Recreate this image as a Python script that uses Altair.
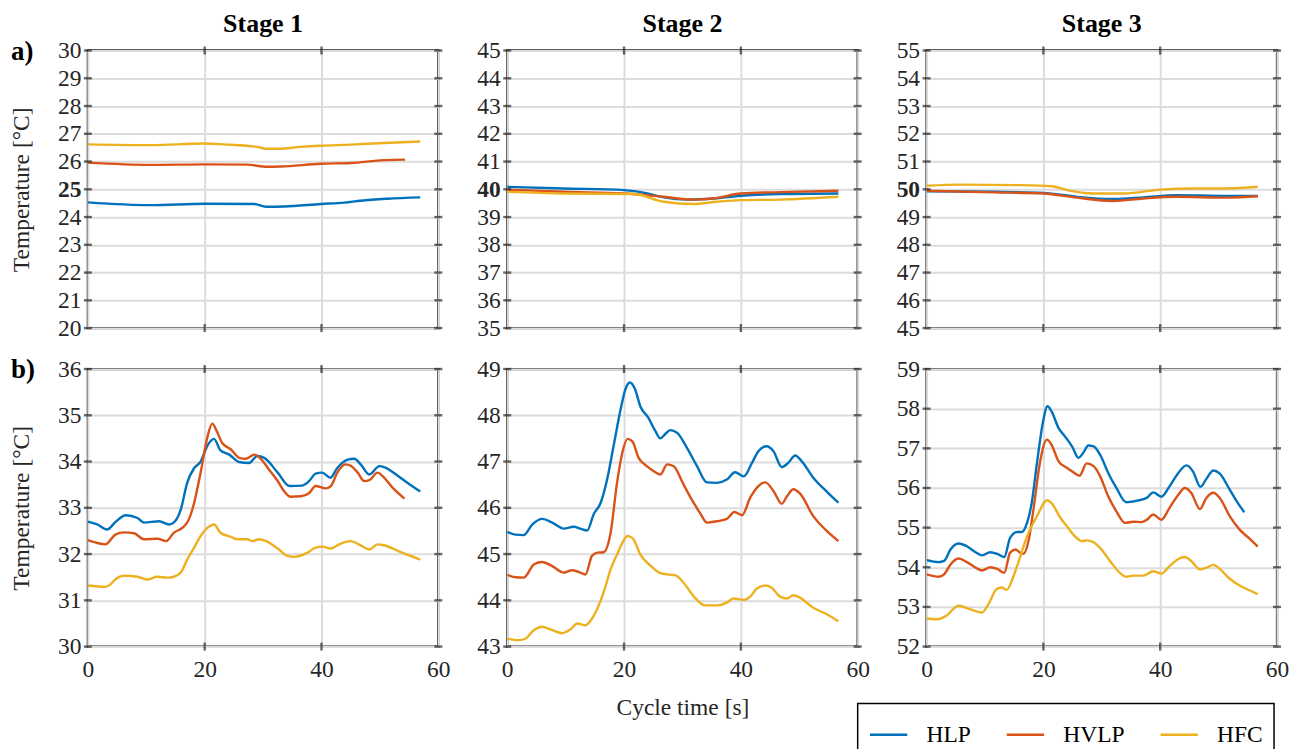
import altair as alt
import pandas as pd

FONT = "Liberation Serif"
SERIES = ["HLP", "HVLP", "HFC"]
COLORS = ["#0072BD", "#D95319", "#EDB120"]
STAGES = ["Stage 1", "Stage 2", "Stage 3"]
ROW_LABELS = ["a)", "b)"]

# ---------------- Row a) (near-constant) ----------------
s1a_hlp_t = [0, 10.7, 20, 28.5, 30.5, 33.6, 39.9, 43.9, 46.7, 51.3, 56.9]
s1a_hlp_v = [24.53, 24.43, 24.48, 24.47, 24.37, 24.38, 24.47, 24.52, 24.59, 24.66, 24.71]
s1a_hvlp_t = [0, 10.7, 20, 27.3, 30.7, 33, 39.9, 45, 50.7, 54.3]
s1a_hvlp_v = [25.96, 25.88, 25.90, 25.89, 25.81, 25.82, 25.92, 25.95, 26.05, 26.07]
s1a_hfc_t = [0, 10.7, 20, 23.3, 29, 30.5, 32.5, 36.5, 39.9, 45, 50.7, 56.9]
s1a_hfc_v = [26.62, 26.59, 26.65, 26.62, 26.53, 26.46, 26.46, 26.53, 26.57, 26.61, 26.67, 26.72]

s2a_hlp_t = [0, 9.7, 20, 24, 26.8, 30.8, 35.3, 40, 46.7, 56.7]
s2a_hlp_v = [40.09, 40.03, 39.97, 39.85, 39.71, 39.63, 39.67, 39.77, 39.83, 39.85]
s2a_hvlp_t = [0, 9.7, 20, 26.8, 31.9, 35.3, 40, 46.7, 56.7]
s2a_hvlp_v = [39.99, 39.91, 39.85, 39.73, 39.63, 39.67, 39.85, 39.90, 39.95]
s2a_hfc_t = [0, 9.7, 21.7, 26.8, 31.9, 35.9, 40, 46.7, 56.7]
s2a_hfc_v = [39.91, 39.85, 39.83, 39.55, 39.47, 39.55, 39.61, 39.63, 39.73]

s3a_hlp_t = [0, 11.5, 20, 25.7, 32, 37.1, 42.7, 51.3, 56.7]
s3a_hlp_v = [49.93, 49.91, 49.87, 49.73, 49.65, 49.71, 49.79, 49.76, 49.76]
s3a_hvlp_t = [0, 11.5, 20, 25.7, 32, 37.1, 42.7, 51.3, 56.7]
s3a_hvlp_v = [49.95, 49.89, 49.85, 49.70, 49.58, 49.67, 49.73, 49.70, 49.75]
s3a_hfc_t = [0, 5.8, 16.1, 21.5, 24.1, 28.6, 33.8, 40, 45.6, 51.3, 56.7]
s3a_hfc_v = [50.13, 50.17, 50.15, 50.11, 49.97, 49.85, 49.85, 49.99, 50.03, 50.03, 50.09]

# ---------------- Row b) ----------------
s1b_hlp_t = [0, 1.6, 3.3, 4.7, 6.5, 8.5, 9.6, 12.2, 13.9, 14.7, 15.9, 17, 18.2, 19.3, 20.5,
             21.6, 22.7, 24.2, 25.9, 27.6, 29, 30.2, 32.5, 34.5, 36.7, 37.9, 39, 40.1, 41.5,
             42.7, 44.5, 45.6, 46.7, 48.2, 49.9, 50.7, 53, 54.7, 56.9]
s1b_hlp_v = [32.70, 32.64, 32.53, 32.69, 32.84, 32.78, 32.68, 32.71, 32.64, 32.68, 32.96, 33.54,
             33.86, 34.00, 34.35, 34.49, 34.24, 34.15, 33.99, 33.97, 34.12, 34.08, 33.76, 33.47,
             33.48, 33.58, 33.74, 33.76, 33.65, 33.86, 34.04, 34.06, 33.94, 33.72, 33.90, 33.88,
             33.70, 33.54, 33.35]
s1b_hvlp_t = [0, 1.6, 3.0, 4.7, 6.2, 7.9, 9.6, 11.9, 13.4, 14.7, 16.2, 17.3, 18.2, 19.3, 20.5,
              21.3, 22.1, 23, 24.5, 25.9, 27, 28.5, 29.6, 31, 32.5, 33.6, 34.7, 36.5, 37.9, 39,
              40.7, 41.6, 42.7, 44.1, 45, 46.2, 47.3, 48.2, 49.6, 50.5, 52.2, 54.2]
s1b_hvlp_v = [32.30, 32.24, 32.21, 32.42, 32.47, 32.45, 32.32, 32.33, 32.28, 32.46, 32.57, 32.75,
              33.11, 33.76, 34.55, 34.82, 34.65, 34.40, 34.26, 34.08, 34.06, 34.15, 34.06, 33.83,
              33.58, 33.36, 33.24, 33.25, 33.32, 33.47, 33.42, 33.47, 33.76, 33.94, 33.91, 33.76,
              33.58, 33.60, 33.76, 33.68, 33.43, 33.20]
s1b_hfc_t = [0, 3, 3.9, 4.7, 6.2, 8.5, 10.2, 11.9, 13.6, 14.7, 15.9, 17, 18.2, 19.3, 20.5, 21.6,
             22.7, 24.5, 25.6, 27.3, 28.2, 29.3, 30.5, 32.5, 34.2, 35.3, 37.6, 39, 40.1, 41.6, 43,
             45, 46.7, 48.2, 49.6, 50.7, 53.6, 56.9]
s1b_hfc_v = [31.32, 31.29, 31.35, 31.45, 31.53, 31.51, 31.45, 31.51, 31.49, 31.51, 31.60, 31.88,
             32.14, 32.39, 32.57, 32.64, 32.46, 32.37, 32.32, 32.32, 32.28, 32.32, 32.28, 32.12,
             31.96, 31.94, 32.03, 32.14, 32.16, 32.12, 32.21, 32.28, 32.19, 32.10, 32.21, 32.19,
             32.04, 31.88]

s2b_hlp_t = [0, 1.4, 2.8, 4.3, 6, 7.7, 9.7, 11.4, 12.5, 13.7, 14.8, 16, 17.1, 18.2, 19.4, 20.2,
             21, 21.8, 22.8, 24.2, 25.4, 26.2, 27.1, 27.9, 29.1, 30.8, 32.5, 34.2, 35.9, 37.6, 39,
             40.5, 41.9, 43, 44.4, 45.6, 47, 48.1, 49.3, 50.4, 52.4, 54.7, 56.7]
s2b_hlp_v = [45.48, 45.42, 45.41, 45.64, 45.76, 45.68, 45.55, 45.59, 45.55, 45.51, 45.86, 46.11,
             46.61, 47.33, 48.12, 48.55, 48.71, 48.59, 48.19, 47.94, 47.65, 47.50, 47.60, 47.68,
             47.62, 47.29, 46.90, 46.55, 46.54, 46.61, 46.77, 46.68, 46.97, 47.22, 47.33, 47.22,
             46.88, 46.97, 47.13, 47.01, 46.65, 46.35, 46.11]
s2b_hvlp_t = [0, 1.4, 2.8, 4.6, 6, 7.7, 9.7, 11.1, 12.3, 13.4, 14.5, 15.4, 16.5, 17.7, 18.8, 19.7,
              20.6, 21.4, 22.5, 23.9, 25.1, 26.2, 27.4, 28.5, 30.2, 31.9, 33, 34.2, 35.9, 37.6,
              38.9, 40.2, 41.6, 43, 44.2, 45.6, 47, 47.9, 49, 50.1, 52.4, 54.7, 56.7]
s2b_hvlp_v = [44.55, 44.50, 44.49, 44.78, 44.83, 44.74, 44.60, 44.65, 44.61, 44.56, 44.96, 45.03,
              45.04, 45.46, 46.54, 47.19, 47.49, 47.44, 47.08, 46.90, 46.79, 46.72, 46.94, 46.90,
              46.50, 46.11, 45.89, 45.68, 45.71, 45.76, 45.91, 45.84, 46.22, 46.47, 46.55, 46.36,
              46.09, 46.25, 46.40, 46.31, 45.82, 45.50, 45.28]
s2b_hfc_t = [0, 2, 3.1, 4.6, 6, 7.4, 9.4, 10.8, 12, 13.4, 14.2, 15.4, 16.5, 17.7, 18.8, 19.7, 20.6,
             21.5, 22.8, 24.6, 26, 27.4, 28.8, 30.2, 31.9, 33.9, 35.9, 37.6, 38.7, 40.5, 41.6,
             42.7, 44.2, 45.3, 46.7, 47.9, 49, 50.1, 52.4, 54.7, 56.7]
s2b_hfc_v = [43.17, 43.14, 43.17, 43.36, 43.43, 43.37, 43.29, 43.37, 43.50, 43.46, 43.55, 43.81,
             44.17, 44.67, 44.99, 45.24, 45.39, 45.34, 44.99, 44.74, 44.60, 44.56, 44.54, 44.38,
             44.09, 43.89, 43.89, 43.95, 44.04, 44.01, 44.08, 44.25, 44.32, 44.27, 44.08, 44.04,
             44.11, 44.06, 43.84, 43.70, 43.55]

s3b_hlp_t = [0, 2.1, 3, 4.1, 5.5, 6.9, 8.4, 9.5, 10.9, 12.1, 13.3, 14.3, 15.5, 16.3, 17.2, 18,
             18.9, 19.9, 20.7, 21.4, 22.6, 23.7, 24.9, 26, 26.8, 27.7, 28.6, 29.7, 31.1, 32.5,
             34.2, 36, 37.7, 38.8, 40.2, 41.6, 43.1, 44.5, 45.6, 46.9, 47.9, 49.1, 50.2, 51.9,
             53.3, 54.4]
s3b_hlp_v = [54.18, 54.13, 54.16, 54.45, 54.60, 54.53, 54.38, 54.30, 54.38, 54.34, 54.26, 54.74,
             54.89, 54.89, 55.12, 55.62, 56.63, 57.64, 58.06, 57.93, 57.51, 57.30, 57.05, 56.76,
             56.88, 57.07, 57.05, 56.84, 56.38, 56.00, 55.64, 55.68, 55.75, 55.89, 55.78, 56.04,
             56.38, 56.57, 56.42, 56.03, 56.23, 56.44, 56.36, 55.96, 55.62, 55.39]
s3b_hvlp_t = [0, 2.1, 3, 4.1, 5.5, 6.9, 8.4, 9.5, 10.9, 12.1, 13.3, 14.3, 15.2, 16, 16.6, 17.5,
              18.3, 19.4, 20.6, 21.4, 22.6, 24, 25.1, 26.2, 27.4, 28.6, 29.7, 31.1, 32.5, 34,
              35.4, 36.8, 37.7, 38.8, 40.2, 41.6, 43.1, 44.2, 45.3, 46.8, 47.9, 49.1, 50.2, 51.9,
              53.6, 55.3, 56.7]
s3b_hvlp_v = [53.82, 53.76, 53.82, 54.07, 54.22, 54.13, 53.99, 53.92, 54.00, 53.96, 53.86, 54.37,
              54.45, 54.37, 54.34, 54.70, 55.46, 56.63, 57.22, 57.09, 56.67, 56.51, 56.40, 56.31,
              56.62, 56.55, 56.30, 55.79, 55.41, 55.12, 55.15, 55.14, 55.20, 55.33, 55.20, 55.50,
              55.83, 56.00, 55.88, 55.47, 55.75, 55.88, 55.75, 55.29, 54.95, 54.72, 54.52]
s3b_hfc_t = [0, 1.8, 3.3, 5.5, 7.5, 9.5, 10.6, 12, 12.9, 13.7, 14.9, 15.7, 17.2, 18.9, 20.6,
             21.4, 22.9, 24, 25.4, 26.6, 27.4, 28.6, 29.7, 31.4, 33.1, 34.2, 35.4, 37.1, 38.8,
             40.2, 41.6, 43.1, 44.2, 45.3, 46.8, 47.9, 49.1, 50.2, 51.9, 53.6, 55.3, 56.7]
s3b_hfc_v = [52.71, 52.69, 52.77, 53.03, 52.94, 52.86, 53.07, 53.45, 53.49, 53.43, 53.78, 54.12,
             54.78, 55.29, 55.69, 55.62, 55.25, 55.04, 54.78, 54.66, 54.68, 54.63, 54.49, 54.16,
             53.86, 53.76, 53.79, 53.79, 53.90, 53.84, 54.03, 54.21, 54.26, 54.16, 53.95, 53.99,
             54.06, 53.96, 53.71, 53.54, 53.42, 53.32]

Y_DOMAINS = {
    ("a", 0): [20, 30], ("a", 1): [35, 45], ("a", 2): [45, 55],
    ("b", 0): [30, 36], ("b", 1): [43, 49], ("b", 2): [52, 59],
}
BOLD_TICK = {0: 25, 1: 40, 2: 50}
X_TICKS = [0, 20, 40, 60]

PANELS = {
    ("a", 0): [(s1a_hlp_t, s1a_hlp_v), (s1a_hvlp_t, s1a_hvlp_v), (s1a_hfc_t, s1a_hfc_v)],
    ("a", 1): [(s2a_hlp_t, s2a_hlp_v), (s2a_hvlp_t, s2a_hvlp_v), (s2a_hfc_t, s2a_hfc_v)],
    ("a", 2): [(s3a_hlp_t, s3a_hlp_v), (s3a_hvlp_t, s3a_hvlp_v), (s3a_hfc_t, s3a_hfc_v)],
    ("b", 0): [(s1b_hlp_t, s1b_hlp_v), (s1b_hvlp_t, s1b_hvlp_v), (s1b_hfc_t, s1b_hfc_v)],
    ("b", 1): [(s2b_hlp_t, s2b_hlp_v), (s2b_hvlp_t, s2b_hvlp_v), (s2b_hfc_t, s2b_hfc_v)],
    ("b", 2): [(s3b_hlp_t, s3b_hlp_v), (s3b_hvlp_t, s3b_hvlp_v), (s3b_hfc_t, s3b_hfc_v)],
}

W, H = 351, 278
TXT = "#262626"
GRID = "#dcdcdc"
FS = 23.5

legend = alt.Legend(
    title=None, orient="none", direction="horizontal", legendX=771, legendY=654,
    symbolType="stroke", symbolSize=1400, symbolStrokeWidth=2.4,
    labelFont=FONT, labelFontSize=FS, labelColor="black", labelOffset=18,
    columnPadding=30, padding=11, strokeColor="black",
)


def panel(row, col):
    recs = []
    for name, (ts, vs) in zip(SERIES, PANELS[(row, col)]):
        for t, v in zip(ts, vs):
            recs.append({"t": t, "v": v, "s": name})
    df = pd.DataFrame(recs)
    lo, hi = Y_DOMAINS[(row, col)]
    yvals = list(range(lo, hi + 1))
    bottom = row == "b"

    xaxis = alt.Axis(
        values=X_TICKS, grid=True, gridColor=GRID, gridWidth=2, domain=False, ticks=False,
        labels=bottom, labelFont=FONT, labelFontSize=FS, labelColor=TXT, labelPadding=11,
        labelFlush=False, labelOverlap=False,
        title="Cycle time [s]" if (bottom and col == 1) else None,
        titleFont=FONT, titleFontSize=FS, titleFontWeight="normal", titleColor=TXT, titlePadding=15,
    )
    if row == "a":
        wt = {"condition": {"test": f"datum.value == {BOLD_TICK[col]}", "value": "bold"},
              "value": "normal"}
    else:
        wt = "normal"
    yaxis = alt.Axis(
        values=yvals, grid=True, gridColor=GRID, gridWidth=2, domain=False, ticks=False,
        labelFont=FONT, labelFontSize=FS, labelColor=TXT, labelPadding=7, labelFontWeight=wt,
        labelFlush=False, labelOverlap=False, labelBound=False, format="d",
        title="Temperature [°C]" if col == 0 else None,
        titleFont=FONT, titleFontSize=FS, titleFontWeight="normal", titleColor=TXT, titlePadding=24,
    )
    xs = alt.Scale(domain=[0, 60], nice=False)
    ys = alt.Scale(domain=[lo, hi], nice=False, zero=False)

    lines = alt.Chart(df).mark_line(strokeWidth=2.4, interpolate="monotone", clip=True).encode(
        x=alt.X("t:Q", scale=xs, axis=xaxis),
        y=alt.Y("v:Q", scale=ys, axis=yaxis),
        color=alt.Color("s:N", scale=alt.Scale(domain=SERIES, range=COLORS), legend=legend, sort=SERIES),
    )

    ydf = pd.DataFrame({"v": yvals})
    xdf = pd.DataFrame({"t": [20, 40]})
    tk = dict(color="#262626", thickness=2.4, size=8)
    tick_l = alt.Chart(ydf).mark_tick(orient="horizontal", **tk).encode(
        y=alt.Y("v:Q", scale=ys, axis=yaxis), x=alt.value(0))
    tick_r = alt.Chart(ydf).mark_tick(orient="horizontal", **tk).encode(
        y=alt.Y("v:Q", scale=ys, axis=yaxis), x=alt.value(W))
    tick_t = alt.Chart(xdf).mark_tick(orient="vertical", **tk).encode(
        x=alt.X("t:Q", scale=xs, axis=xaxis), y=alt.value(0))
    tick_b = alt.Chart(xdf).mark_tick(orient="vertical", **tk).encode(
        x=alt.X("t:Q", scale=xs, axis=xaxis), y=alt.value(H))
    layers = [lines, tick_l, tick_r, tick_t, tick_b]

    if row == "a":
        layers.append(alt.Chart(pd.DataFrame({"lab": [STAGES[col]]})).mark_text(
            font=FONT, fontSize=26, fontWeight="bold", color="black", align="center",
            baseline="alphabetic").encode(text="lab:N", x=alt.value(W / 2), y=alt.value(-19)))
    if col == 0:
        lab = ROW_LABELS[0] if row == "a" else ROW_LABELS[1]
        layers.append(alt.Chart(pd.DataFrame({"lab": [lab]})).mark_text(
            font=FONT, fontSize=27, fontWeight="bold", color="black", align="left",
            baseline="middle").encode(text="lab:N", x=alt.value(-77), y=alt.value(1)))

    return alt.layer(*layers).properties(width=W, height=H)


charts = [panel(r, c) for r in ["a", "b"] for c in range(3)]
chart = alt.concat(*charts, columns=3, spacing={"row": 41, "column": 69}, bounds="flush").properties(
    padding={"left": 0, "top": 0, "right": 5, "bottom": 5}
).configure(font=FONT).configure_axis(labelFont=FONT, titleFont=FONT, labelOverlap=False).configure_view(
    stroke="#262626", strokeWidth=2.3
).configure_legend(strokeWidth=1.5, labelFont=FONT)

chart.save("out.html", embed_options={"renderer": "svg", "actions": False})
